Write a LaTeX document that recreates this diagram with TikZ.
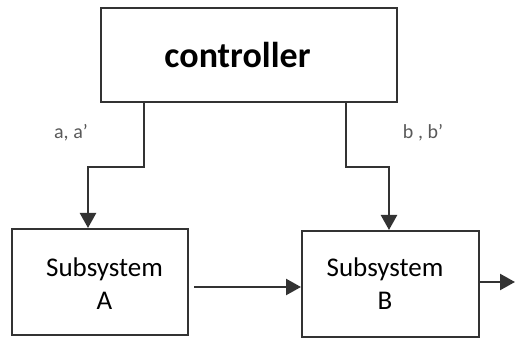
\documentclass[tikz,border=0pt]{standalone}
\usepackage{fontspec}
\setmainfont{Carlito}
\usetikzlibrary{arrows.meta,calc}
\begin{document}
\begin{tikzpicture}[x=1pt,y=1pt,
  blk/.style={draw=black!80,line width=2pt,rectangle,inner sep=0pt},
  wire/.style={draw=black!80,line width=2.4pt},
  arr/.style={wire,-{Triangle[width=16pt,length=15pt]}},
  sig/.style={text=black!65,font=\fontsize{20}{20}\selectfont},
  subtxt/.style={align=center,font=\fontsize{27}{33}\selectfont}]
\useasboundingbox (0,0) rectangle (515,338);
% controller block
\node[blk,minimum width=296pt,minimum height=94pt] (ctrl) at (249,283) {};
\node[font=\bfseries\fontsize{36}{36}\selectfont] (ctrltxt) at (237.5,283) {controller};
% subsystem blocks
\node[blk,minimum width=176pt,minimum height=106pt] (subA) at (100,56) {};
\node[subtxt] (txtA) at (104.5,54.5) {Subsystem\\A};
\node[blk,minimum width=177pt,minimum height=106pt] (subB) at (390.5,54) {};
\node[subtxt] (txtB) at (385,54.5) {Subsystem\\B};
% routing points
\coordinate (outA) at ($(ctrl.south west)+(44,0)$);
\coordinate (outB) at ($(ctrl.south west)+(246,0)$);
\coordinate (inA) at ($(subA.north west)+(77,0)$);
\coordinate (inB) at ($(subB.north west)+(88,0)$);
\coordinate (end) at (515,56);
% control signals
\draw[arr] (outA) -- ++(0,-64) -| (inA);
\draw[arr] (outB) -- ++(0,-64) -| (inB);
\node[sig] (la) at (71,205) {a, a’};
\node[sig] (lb) at (423,205) {b , b’};
% signal chain
\draw[arr] ($(subA.east)+(5,-5)$) -- (subB.west |- 0,51);
\draw[arr] (subB.east |- end) -- (end);
\end{tikzpicture}
\end{document}
